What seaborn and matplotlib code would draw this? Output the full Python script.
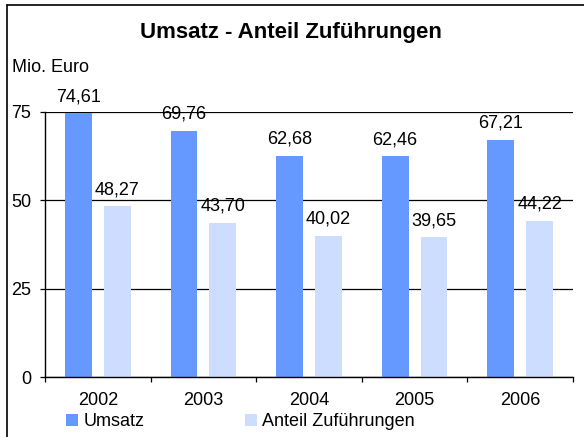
import matplotlib
matplotlib.use("Agg")
import matplotlib.pyplot as plt
import seaborn as sns
import pandas as pd
from matplotlib.lines import Line2D

# data
years = ['2002', '2003', '2004', '2005', '2006']
umsatz = [74.61, 69.76, 62.68, 62.46, 67.21]
zufuehrungen = [48.27, 43.70, 40.02, 39.65, 44.22]
series = ['Umsatz', 'Anteil Zuführungen']
colors = ['#6699FF', '#CCDDFF']

df = pd.DataFrame({
    'Jahr': years * 2,
    'Wert': umsatz + zufuehrungen,
    'Reihe': [series[0]] * len(years) + [series[1]] * len(years),
})

sns.set_style('white')
plt.rcParams['font.family'] = ['Liberation Sans', 'DejaVu Sans']
plt.rcParams.update({
    'font.size': 13,
    'text.color': 'black',
    'xtick.labelcolor': 'black',
    'ytick.labelcolor': 'black',
})

W, H = 584, 437
fig = plt.figure(figsize=(W / 100, H / 100), dpi=100)
ax = fig.add_axes([45 / W, 1 - 377 / H, (573 - 45) / W, (377 - 112) / H])

sns.barplot(data=df, x='Jahr', y='Wert', hue='Reihe', palette=colors,
            width=0.736, gap=0.31, saturation=1, linewidth=0, ax=ax)

ax.set_ylim(0, 75)
ax.set_yticks([0, 25, 50, 75])
ax.set_xlim(-0.5, len(years) - 0.5)
ax.set_xlabel('')
ax.set_ylabel('')

ax.yaxis.grid(True, color='black', lw=0.9)
ax.set_axisbelow(True)
for s in ['top', 'right']:
    ax.spines[s].set_visible(False)
for s in ['left', 'bottom']:
    ax.spines[s].set_color('black')
    ax.spines[s].set_linewidth(1)

# excel style ticks between categories
ax.set_xticks([i - 0.5 for i in range(len(years) + 1)], minor=True)
ax.tick_params(axis='x', which='major', bottom=False, length=0, pad=10.5, labelsize=13,
               labelcolor='black')
ax.tick_params(axis='x', which='minor', bottom=True, length=3.6, width=0.9, color='black')
ax.tick_params(axis='y', which='major', left=True, length=3.6, width=0.9, color='black',
               pad=6.5, labelsize=13, labelcolor='black')

# value labels
for container, vals in zip(ax.containers, [umsatz, zufuehrungen]):
    for bar, v in zip(container, vals):
        ax.annotate(f'{v:.2f}'.replace('.', ','),
                    (bar.get_x() + bar.get_width() / 2, bar.get_height()),
                    xytext=(0, 8.5), textcoords='offset points',
                    ha='center', va='baseline', fontsize=13, color='black')

fig.text(291 / W, 1 - 38 / H, 'Umsatz - Anteil Zuführungen', ha='center', va='baseline',
         fontsize=16, fontweight='bold', color='black')
fig.text(12 / W, 1 - 72 / H, 'Mio. Euro', ha='left', va='baseline', fontsize=13,
         color='black')

leg = ax.get_legend()
handles = leg.legend_handles
leg.remove()
fig.legend(handles, series, loc='center left', bbox_to_anchor=(66 / W, 1 - 421.5 / H),
           ncol=2, frameon=False, borderpad=0, borderaxespad=0, handlelength=0.65,
           handleheight=0.65, handletextpad=0.3, columnspacing=5.6, fontsize=13,
           labelcolor='black')

# chart frame (left and top edges visible)
fig.add_artist(Line2D([7 / W, 7 / W], [0, 1 - 5 / H], color='black', lw=1.2,
                      transform=fig.transFigure))
fig.add_artist(Line2D([7 / W, 1], [1 - 5 / H, 1 - 5 / H], color='black', lw=1.2,
                      transform=fig.transFigure))

fig.savefig('out.png', dpi=100)
